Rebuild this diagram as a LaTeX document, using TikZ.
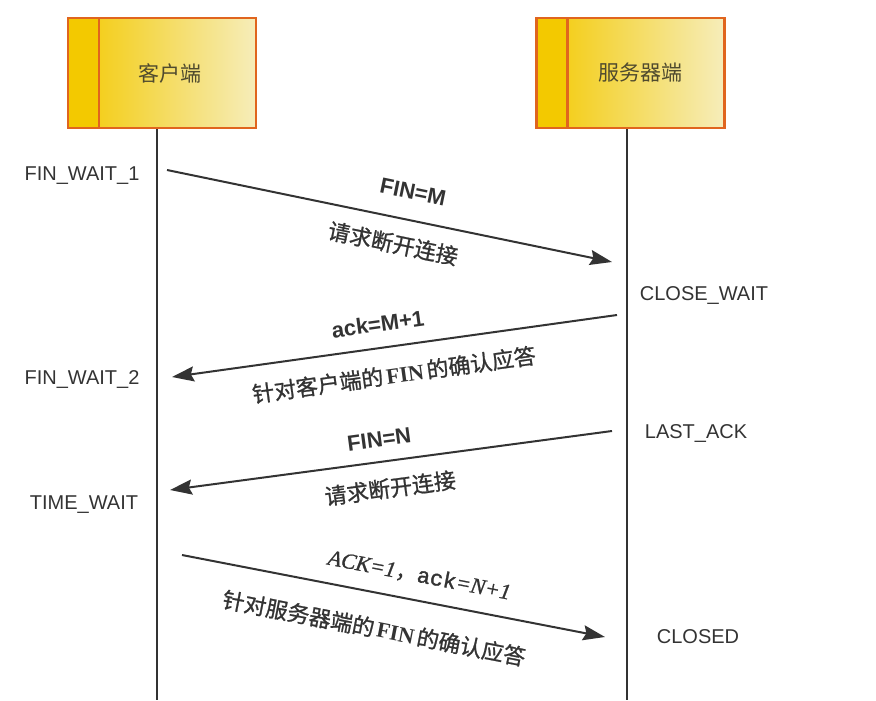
\documentclass[tikz,border=0pt]{standalone}
\usepackage{fontspec}
\setmainfont{Liberation Sans}
\newfontfamily\cjk{Noto Sans CJK SC}
\newfontfamily\cjkheavy{Noto Sans CJK SC}[FakeBold=1]
\newfontfamily\serif{Liberation Serif}
\newfontfamily\serifheavy{Liberation Serif}[FakeBold=1]
\newfontfamily\monoheavy{Liberation Mono}[FakeBold=1.5]
\usepackage{xcolor}
\usetikzlibrary{positioning,arrows.meta}
\definecolor{hdrgold}{HTML}{F3C900}
\definecolor{hdrpale}{HTML}{F6EDBA}
\definecolor{hdredge}{HTML}{E0651E}
\definecolor{inkgray}{HTML}{333333}
\definecolor{hdrtext}{HTML}{4F4A2E}
\newcommand{\finword}{\hspace{1.5pt}{\serif\bfseries FIN}\hspace{1.5pt}}

\begin{document}
\begin{tikzpicture}[
    x=0.5pt,
    y=-0.5pt,
    font=\fontsize{10}{12}\selectfont,
    hdr/.style={
        draw=hdredge,
        line width=1.3pt,
        minimum width=94pt,
        minimum height=55pt,
        inner sep=0pt,
        left color=hdrgold,
        right color=hdrpale,
        text=hdrtext,
        font=\cjk\fontsize{10.5}{12}\selectfont,
        path picture={
            \fill[hdrgold] (path picture bounding box.north west)
                rectangle ([xshift=15.5pt]path picture bounding box.south west);
            \draw[hdredge, line width=1.3pt]
                ([xshift=15.5pt]path picture bounding box.north west) --
                ([xshift=15.5pt]path picture bounding box.south west);
        }
    },
    life/.style={draw=inkgray, line width=1pt},
    msg/.style={draw=inkgray, line width=1pt,
        -{Stealth[length=11pt,width=7.5pt,inset=1.5pt]}},
    state/.style={text=inkgray, inner sep=0pt},
    lbl/.style={sloped, inner sep=0pt, text=inkgray,
        font=\fontsize{11}{13}\selectfont}
]
\useasboundingbox (0,0) rectangle (876,700);

% headers
\node[hdr] (client) at (162,73) {\hspace*{8pt}客户端};
\node[hdr] (server) at (630.5,73) {\hspace*{10pt}服务器端};

% lifelines
\coordinate (cend) at (157,700);
\coordinate (send) at (627,700);
\draw[life] (client.south -| cend) -- (cend);
\draw[life] (server.south -| send) -- (send);

% states
\node[state] (fw1) at (82,176) {FIN\_WAIT\_1};
\node[state] (fw2) at (82,380) {FIN\_WAIT\_2};
\node[state] (tw) at (84,505) {TIME\_WAIT};
\node[state] (cw) at (704,296) {CLOSE\_WAIT};
\node[state] (la) at (696,433) {LAST\_ACK};
\node[state] (cl) at (698,637) {CLOSED};

% message ends
\coordinate (c1) at (167,170);
\coordinate (s1) at (612,262);
\coordinate (s2) at (617,315);
\coordinate (c2) at (172,377);
\coordinate (s3) at (612,431);
\coordinate (c3) at (170,490);
\coordinate (c4) at (182,555);
\coordinate (s4) at (605,637);

% messages
\draw[msg] (c1) --
    node[lbl, above=10pt, pos=0.54] {\bfseries FIN=M}
    node[lbl, below=7.5pt, pos=0.52] {\cjkheavy 请求断开连接} (s1);
\draw[msg] (s2) --
    node[lbl, above=7.5pt, pos=0.53] {\bfseries ack=M+1}
    node[lbl, below=8.5pt, pos=0.51] {{\cjkheavy 针对客户端的}\finword{\cjkheavy 的确认应答}} (c2);
\draw[msg] (s3) --
    node[lbl, above=7pt, pos=0.52] {\bfseries FIN=N}
    node[lbl, below=8pt, pos=0.51] {\cjkheavy 请求断开连接} (c3);
\draw[msg] (c4) --
    node[lbl, above=7.5pt, pos=0.55] {{\serifheavy\itshape ACK=1}{\cjkheavy ，}{\monoheavy ack}{\serifheavy\itshape =N+1}}
    node[lbl, below=12pt, pos=0.47] {{\cjkheavy 针对服务器端的}\finword{\cjkheavy 的确认应答}} (s4);

\end{tikzpicture}
\end{document}
